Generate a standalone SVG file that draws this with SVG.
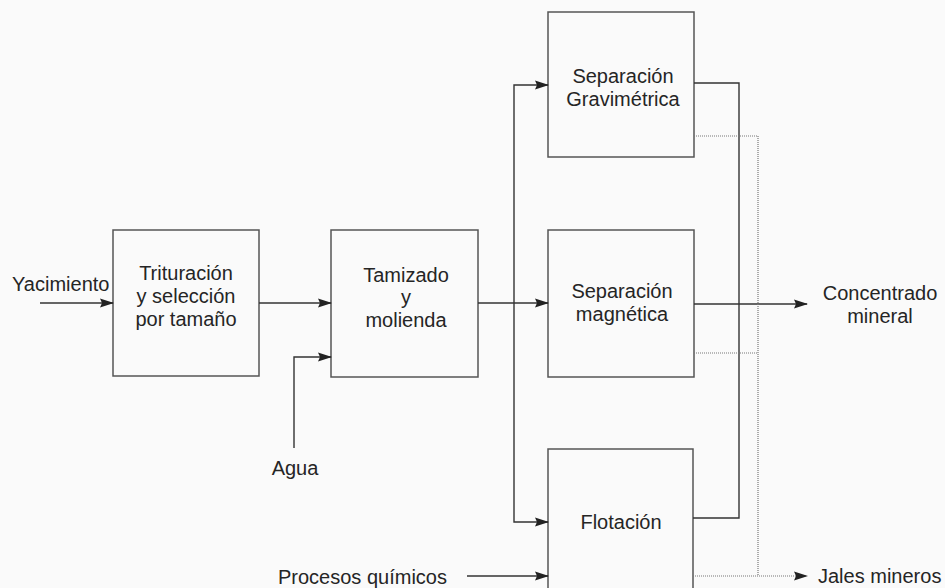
<svg xmlns="http://www.w3.org/2000/svg" width="945" height="588" viewBox="0 0 945 588">
<defs>
<marker id="ah" markerWidth="14" markerHeight="10" refX="13" refY="5" orient="auto" markerUnits="userSpaceOnUse">
<path d="M0,0.5 L14,5 L0,9.5 L2,5 Z" fill="#222"/>
</marker>
<style>
.box{fill:none;stroke:#555;stroke-width:1.5}
.t{font-family:"Liberation Sans",Arial,sans-serif;font-size:20px;fill:#252525;text-anchor:middle}
.ts{font-family:"Liberation Sans",Arial,sans-serif;font-size:20px;fill:#252525}
.c{fill:none;stroke:#333;stroke-width:1.4}
.d{fill:none;stroke:#777;stroke-width:1.2;stroke-dasharray:1 1}
</style>
</defs>
<rect width="945" height="588" fill="#fafafa"/>
<g id="yacimiento"><text class="ts" x="12" y="291">Yacimiento</text></g>
<g id="trituracion">
<rect class="box" x="113" y="230" width="146" height="146"/>
<text class="t" x="186" y="280">Trituración</text>
<text class="t" x="186" y="303">y selección</text>
<text class="t" x="186" y="326">por tamaño</text>
</g>
<g id="tamizado">
<rect class="box" x="331" y="230" width="147" height="147"/>
<text class="t" x="406" y="282">Tamizado</text>
<text class="t" x="406" y="304">y</text>
<text class="t" x="406" y="327">molienda</text>
</g>
<g id="agua"><text class="t" x="295" y="475">Agua</text></g>
<g id="gravimetrica">
<rect class="box" x="548" y="12" width="146" height="145"/>
<text class="t" x="623" y="83">Separación</text>
<text class="t" x="623" y="106">Gravimétrica</text>
</g>
<g id="magnetica">
<rect class="box" x="548" y="230" width="146" height="147"/>
<text class="t" x="622" y="298">Separación</text>
<text class="t" x="622" y="321">magnética</text>
</g>
<g id="flotacion">
<rect class="box" x="548" y="449" width="145" height="160"/>
<text class="t" x="621" y="529">Flotación</text>
</g>
<g id="procesos"><text class="ts" x="278" y="584">Procesos químicos</text></g>
<g id="concentrado">
<text class="t" x="880" y="300">Concentrado</text>
<text class="t" x="880" y="323">mineral</text>
</g>
<g id="jales"><text class="ts" x="818" y="583">Jales mineros</text></g>
<g id="connectors">
<path class="c" d="M40,303 H113" marker-end="url(#ah)"/>
<path class="c" d="M259,303 H331" marker-end="url(#ah)"/>
<path class="c" d="M294,448 V357 H331" marker-end="url(#ah)"/>
<path class="c" d="M478,303 H548" marker-end="url(#ah)"/>
<path class="c" d="M514,303 V85 H548" marker-end="url(#ah)"/>
<path class="c" d="M514,303 V522 H548" marker-end="url(#ah)"/>
<path class="c" d="M694,83 H739 V518 H693"/>
<path class="c" d="M694,304 H807" marker-end="url(#ah)"/>
<path class="d" d="M694,136 H758 V575"/>
<path class="d" d="M694,353 H758"/>
<path class="d" d="M693,576 H807" marker-end="url(#ah)"/>
<path class="c" d="M467,576 H548" marker-end="url(#ah)"/>
</g>
</svg>
